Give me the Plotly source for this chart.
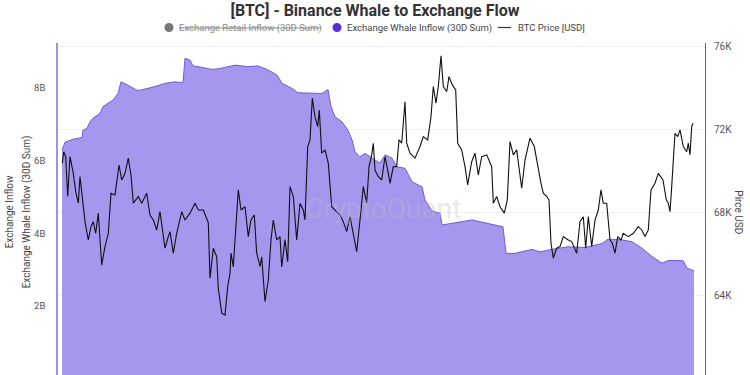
import plotly.graph_objects as go
import pandas as pd

# ---- data (x = hours since start of window) ----
whale_t = [4, 7, 15, 24, 25, 29, 32, 35, 42, 45, 50, 55, 60, 63, 70, 79, 82, 90, 97, 107, 117,
           125, 127, 132, 135, 144, 154, 162, 177, 190, 200, 210, 219, 224, 234, 240, 254,
           264, 270, 273, 277, 284, 290, 294, 297, 302, 307, 314, 322, 327, 334, 339, 347,
           354, 364, 367, 374, 382, 384, 397, 414, 427, 445, 448, 457, 474, 482, 494, 510,
           527, 544, 550, 564, 574, 584, 594, 604, 610, 625, 629, 636]
whale_inflow_b = [6.29, 6.51, 6.59, 6.64, 6.84, 6.89, 7.07, 7.17, 7.30, 7.49, 7.58, 7.67, 7.85,
                  8.17, 8.08, 7.94, 7.94, 7.99, 8.04, 8.13, 8.17, 8.15, 8.82, 8.77, 8.61, 8.57,
                  8.51, 8.54, 8.63, 8.59, 8.61, 8.50, 8.36, 8.13, 7.99, 7.87, 7.85, 7.85, 7.96,
                  7.49, 7.21, 7.07, 6.84, 6.57, 6.25, 6.11, 6.20, 6.07, 5.93, 6.16, 6.07, 5.83,
                  5.79, 5.42, 5.28, 4.92, 4.62, 4.55, 4.23, 4.29, 4.37, 4.29, 4.18, 3.45, 3.45,
                  3.56, 3.49, 3.56, 3.63, 3.61, 3.72, 3.84, 3.82, 3.77, 3.59, 3.36, 3.18, 3.25,
                  3.25, 3.04, 2.97]

price_t = [4.3, 5.7, 7.7, 9.7, 12, 15.3, 17.7, 20.3, 22, 24.3, 27, 30.3, 33, 35.3, 37.7, 40.3,
           43.7, 47, 50.3, 53, 57, 61, 63.7, 67, 70.3, 73, 75.3, 80.3, 83.7, 88.7, 92, 95.3,
           98.7, 102, 107, 110.3, 112, 115.3, 118.7, 123.7, 127, 132, 137, 140.3, 145.3, 150.3,
           152, 155.3, 158.7, 160.3, 163.7, 167, 169.7, 172, 173, 175.3, 180.3, 183, 187, 190.3,
           193, 196.3, 198.7, 202, 203.7, 207, 210.3, 213, 215.3, 218.7, 222, 223.7, 227, 229.7,
           232, 235.3, 238.7, 242, 245.3, 247, 249.7, 252, 254.3, 257, 259.7, 261.3, 263.7, 267,
           270.3, 273.7, 277, 282, 285.3, 288.7, 292, 295.3, 298.7, 302, 305.3, 308.7, 311,
           313.7, 315.3, 317, 320.3, 323.7, 327, 330.3, 332, 335.3, 338.7, 341, 343.7, 347,
           348.7, 352, 357, 362, 365.3, 369.7, 373, 375.3, 378, 380.3, 383, 385.3, 388.7, 391,
           394.3, 397.7, 399.7, 403.7, 407, 409.7, 413.7, 417, 420.3, 423.7, 428.7, 433.7,
           435.3, 438.7, 442, 446.3, 449.3, 452, 455.3, 458.7, 463.7, 467, 472, 476.3, 480.3,
           483, 485.3, 488.7, 491, 493, 495.3, 498.7, 502, 505.3, 510.3, 513.7, 518.7, 522,
           525.3, 527.7, 530.3, 533.7, 537, 540.3, 543, 545.3, 548.7, 552, 554.3, 557, 559.7,
           563, 565.3, 570.3, 575.3, 580.3, 583.7, 587, 590.3, 593, 597, 600.3, 605, 608.3,
           610.3, 612, 613.7, 617, 619.7, 622, 625.3, 628.7, 630.3, 632, 633.7, 635]
btc_price_k = [70.39, 70.95, 70.71, 68.79, 70.71, 69.91, 69.03, 68.47, 69.75, 68.79, 67.58, 66.70,
               67.34, 67.58, 67.02, 67.99, 65.49, 66.38, 67.02, 68.95, 68.87, 70.31, 69.59, 69.91,
               70.64, 69.83, 68.47, 68.79, 68.47, 68.95, 67.90, 67.66, 67.18, 68.06, 66.30, 66.86,
               67.10, 66.06, 67.02, 68.06, 67.66, 67.99, 68.47, 68.14, 68.14, 67.53, 64.85, 66.30,
               65.89, 64.37, 63.17, 63.08, 64.45, 65.09, 66.06, 65.41, 69.11, 68.14, 68.30, 66.86,
               67.66, 67.90, 66.06, 65.41, 65.89, 63.73, 64.77, 66.70, 67.66, 66.70, 66.86, 65.41,
               66.70, 65.65, 69.27, 68.79, 66.70, 68.47, 68.14, 67.66, 71.20, 71.52, 73.53, 72.64,
               72.16, 72.96, 70.88, 71.04, 70.39, 68.30, 68.14, 67.90, 67.58, 67.10, 67.82, 67.02,
               66.13, 67.66, 69.27, 68.47, 70.23, 70.80, 71.36, 70.07, 69.75, 69.59, 70.71, 69.91,
               69.43, 70.23, 70.23, 71.52, 71.36, 73.36, 71.36, 70.88, 70.64, 71.20, 71.68, 71.52,
               72.64, 74.09, 73.29, 74.09, 75.57, 74.09, 73.85, 74.57, 74.17, 73.93, 71.36, 71.04,
               70.23, 69.35, 70.47, 70.88, 69.83, 70.71, 70.80, 70.23, 68.47, 68.79, 68.30, 67.99,
               68.63, 71.44, 70.80, 71.04, 69.19, 70.55, 71.60, 71.20, 70.07, 69.43, 68.95, 68.79,
               68.63, 66.54, 65.82, 66.30, 66.38, 66.86, 66.70, 66.62, 66.06, 67.58, 67.82, 66.30,
               67.82, 66.38, 67.66, 68.14, 69.11, 68.47, 68.47, 66.70, 66.54, 66.06, 66.86, 66.70,
               67.02, 66.86, 67.02, 67.34, 67.18, 66.86, 67.18, 69.11, 69.43, 69.91, 69.59, 68.63,
               68.47, 68.06, 69.27, 71.84, 71.68, 72.00, 71.20, 70.95, 71.36, 70.80, 72.16, 72.32,
               71.76]

left_tickvals_b = [0, 2, 4, 6, 8]
left_ticktext = ["0", "2B", "4B", "6B", "8B"]
right_tickvals_k = [60, 64, 68, 72, 76]
right_ticktext = ["60K", "64K", "68K", "72K", "76K"]

legend_names = ["Exchange Retail Inflow (30D Sum)", "Exchange Whale Inflow (30D Sum)", "BTC Price [USD]"]

start = pd.Timestamp("2024-03-01")
whale_x = [start + pd.Timedelta(hours=h) for h in whale_t]
price_x = [start + pd.Timedelta(hours=h) for h in price_t]
x_range = [start, start + pd.Timedelta(hours=647)]

FONT = "Roboto, Open Sans, sans-serif"
FILL = "rgb(167,150,238)"
EDGE = "rgb(110,90,232)"

fig = go.Figure()

fig.add_trace(go.Scatter(x=whale_x, y=[v * 1e9 for v in whale_inflow_b], mode="lines",
                         fill="tozeroy", fillcolor=FILL, line=dict(color=EDGE, width=1),
                         showlegend=False, name=legend_names[1]))
fig.add_trace(go.Scatter(x=price_x, y=[p * 1000 for p in btc_price_k], mode="lines",
                         line=dict(color="#111111", width=1.1), name=legend_names[2],
                         yaxis="y2", showlegend=False))

# ---- legend drawn in paper coordinates (reference style: small dots, tight gaps) ----
def px_x(p):
    return (p - 58) / 647.0

def px_y(p):
    return (375 - p) / 332.0

LY = 27.5
rx, ry = 4.5 / 647.0, 4.5 / 332.0
shapes = [
    dict(type="circle", xref="paper", yref="paper", x0=px_x(169) - rx, x1=px_x(169) + rx,
         y0=px_y(LY) - ry, y1=px_y(LY) + ry, fillcolor="#77767b", line=dict(width=0)),
    dict(type="circle", xref="paper", yref="paper", x0=px_x(337) - rx, x1=px_x(337) + rx,
         y0=px_y(LY) - ry, y1=px_y(LY) + ry, fillcolor="#5a2de6", line=dict(width=0)),
    dict(type="line", xref="paper", yref="paper", x0=px_x(498), x1=px_x(511),
         y0=px_y(LY), y1=px_y(LY), line=dict(color="#333333", width=1.2)),
]

legend_ann = [
    dict(text="<s>" + legend_names[0] + "</s>", x=px_x(177), font_color="#8a8a8a"),
    dict(text=legend_names[1], x=px_x(345), font_color="#444444"),
    dict(text=legend_names[2], x=px_x(516), font_color="#444444"),
]
annotations = []
for a in legend_ann:
    annotations.append(dict(text=a["text"], xref="paper", yref="paper", x=a["x"], y=px_y(LY),
                            xanchor="left", yanchor="middle", showarrow=False,
                            font=dict(size=9.5, color=a["font_color"], family=FONT)))

annotations += [
    dict(text="Exchange Inflow", xref="paper", yref="paper", x=px_x(9), y=0.49,
         xanchor="center", yanchor="middle", textangle=-90, showarrow=False,
         font=dict(size=10, color="#444444")),
    dict(text="Exchange Whale Inflow (30D Sum)", xref="paper", yref="paper", x=px_x(27),
         y=0.49, xanchor="center", yanchor="middle", textangle=-90, showarrow=False,
         font=dict(size=10, color="#444444")),
    dict(text="Pirce USD", xref="paper", yref="paper", x=px_x(739), y=0.49, xanchor="center",
         yanchor="middle", textangle=90, showarrow=False, font=dict(size=10, color="#444444")),
    dict(text="CryptoQuant", xref="paper", yref="paper", x=0.502, y=0.503, xanchor="center",
         yanchor="middle", showarrow=False,
         font=dict(size=28, color="rgba(190,190,190,0.35)", family=FONT)),
]

fig.update_layout(
    width=750, height=375,
    margin=dict(l=58, r=45, t=43, b=0),
    paper_bgcolor="white", plot_bgcolor="white",
    font=dict(family=FONT, size=10, color="#555555"),
    title=dict(text="<b>[BTC] - Binance Whale to Exchange Flow</b>", x=0.5, xanchor="center",
               y=0.972, yanchor="middle", font=dict(size=16, color="#333333", family=FONT)),
    showlegend=False,
    xaxis=dict(type="date", range=x_range, showticklabels=False, showgrid=False,
               zeroline=False, showline=False, ticks=""),
    yaxis=dict(range=[0.1e9, 9.24e9], tickvals=[v * 1e9 for v in left_tickvals_b],
               ticktext=left_ticktext, showgrid=False, zeroline=False, showline=True,
               linecolor="#9d90f0", linewidth=1.5, ticks="", ticklabelstandoff=9,
               tickfont=dict(size=9.5, color="#555555")),
    yaxis2=dict(range=[60190, 76190], tickvals=[v * 1000 for v in right_tickvals_k],
                ticktext=right_ticktext, overlaying="y", side="right", showgrid=True,
                gridcolor="#efefef", zeroline=False, showline=True, linecolor="#666666",
                linewidth=1, ticks="", ticklabelstandoff=6,
                tickfont=dict(size=10, color="#555555")),
    shapes=shapes,
    annotations=annotations,
)

fig.write_html("out.html")
